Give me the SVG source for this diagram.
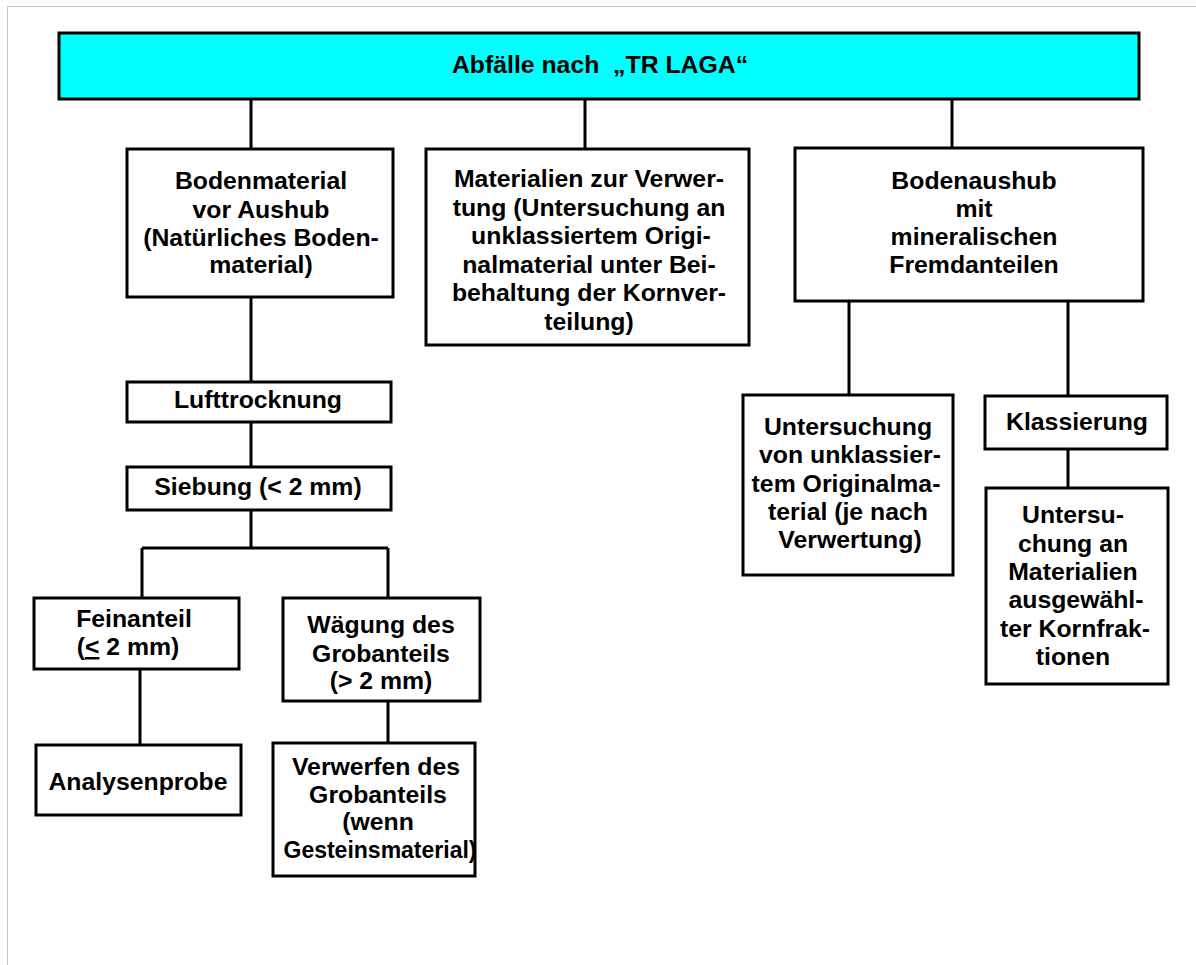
<svg xmlns="http://www.w3.org/2000/svg" width="1196" height="965" viewBox="0 0 1196 965">
<style>
.box{fill:#fff;stroke:#000;stroke-width:3}
.top{fill:#00ffff;stroke:#000;stroke-width:3}
.t{font-family:"Liberation Sans",Arial,sans-serif;font-weight:bold;font-size:24.8px;fill:#000;text-anchor:middle}
.c{stroke:#000;stroke-width:3;fill:none}
</style>
<rect x="0" y="0" width="1196" height="965" fill="#fff"/>
<path d="M7.5 965 V6.5 H1196" fill="none" stroke="#c8c8c8" stroke-width="1"/>
<g id="connectors">
<path class="c" d="M251 99 V149 M585 99 V149 M952 99 V148"/>
<path class="c" d="M251 297 V382 M251 422 V467 M251 510 V548 M142 548 H388 M142 548 V598 M388 548 V598"/>
<path class="c" d="M140 669 V745 M388 701 V743"/>
<path class="c" d="M849 301 V395 M1068 301 V396 M1068 449 V488"/>
</g>
<g id="n-top">
<rect class="top" x="59" y="33" width="1080" height="66"/>
<text class="t" x="600" y="73">Abfälle nach &#160;„TR LAGA“</text>
</g>
<g id="n-bodenmaterial">
<rect class="box" x="127" y="149" width="266" height="148"/>
<text class="t" x="261" y="189">Bodenmaterial</text>
<text class="t" x="261" y="218">vor Aushub</text>
<text class="t" x="261" y="246">(Natürliches Boden-</text>
<text class="t" x="261" y="273">material)</text>
</g>
<g id="n-materialien">
<rect class="box" x="426" y="149" width="323" height="196"/>
<text class="t" x="589" y="187">Materialien zur Verwer-</text>
<text class="t" x="589" y="216">tung (Untersuchung an</text>
<text class="t" x="591" y="244">unklassiertem Origi-</text>
<text class="t" x="589" y="273">nalmaterial unter Bei-</text>
<text class="t" x="589" y="301">behaltung der Kornver-</text>
<text class="t" x="589" y="330">teilung)</text>
</g>
<g id="n-bodenaushub">
<rect class="box" x="795" y="148" width="348" height="153"/>
<text class="t" x="974" y="189">Bodenaushub</text>
<text class="t" x="974" y="217">mit</text>
<text class="t" x="974" y="245">mineralischen</text>
<text class="t" x="974" y="273">Fremdanteilen</text>
</g>
<g id="n-lufttrocknung">
<rect class="box" x="127" y="382" width="264" height="40"/>
<text class="t" x="258" y="408">Lufttrocknung</text>
</g>
<g id="n-siebung">
<rect class="box" x="127" y="467" width="264" height="43"/>
<text class="t" x="258" y="495">Siebung (&lt; 2 mm)</text>
</g>
<g id="n-feinanteil">
<rect class="box" x="34" y="598" width="205" height="71"/>
<text class="t" x="134" y="627">Feinanteil</text>
<text class="t" x="128" y="655">(<tspan text-decoration="underline">&lt;</tspan> 2 mm)</text>
</g>
<g id="n-waegung">
<rect class="box" x="283" y="598" width="197" height="103"/>
<text class="t" x="381" y="633">Wägung des</text>
<text class="t" x="381" y="662">Grobanteils</text>
<text class="t" x="381" y="689">(&gt; 2 mm)</text>
</g>
<g id="n-analysenprobe">
<rect class="box" x="36" y="745" width="205" height="70"/>
<text class="t" x="138" y="790">Analysenprobe</text>
</g>
<g id="n-verwerfen">
<rect class="box" x="273" y="743" width="202" height="133"/>
<text class="t" x="376" y="775">Verwerfen des</text>
<text class="t" x="378" y="803">Grobanteils</text>
<text class="t" x="378" y="830">(wenn</text>
<text class="t" x="380" y="858" textLength="193" lengthAdjust="spacingAndGlyphs">Gesteinsmaterial)</text>
</g>
<g id="n-untersuchung">
<rect class="box" x="743" y="395" width="210" height="180"/>
<text class="t" x="848" y="435">Untersuchung</text>
<text class="t" x="850" y="463">von unklassier-</text>
<text class="t" x="846" y="492">tem Originalma-</text>
<text class="t" x="848" y="520">terial (je nach</text>
<text class="t" x="850" y="548">Verwertung)</text>
</g>
<g id="n-klassierung">
<rect class="box" x="985" y="396" width="182" height="53"/>
<text class="t" x="1077" y="430">Klassierung</text>
</g>
<g id="n-untersuchung2">
<rect class="box" x="986" y="488" width="182" height="196"/>
<text class="t" x="1073" y="523">Untersu-</text>
<text class="t" x="1073" y="552">chung an</text>
<text class="t" x="1073" y="580">Materialien</text>
<text class="t" x="1076" y="608">ausgewähl-</text>
<text class="t" x="1075" y="637">ter Kornfrak-</text>
<text class="t" x="1073" y="665">tionen</text>
</g>
</svg>
